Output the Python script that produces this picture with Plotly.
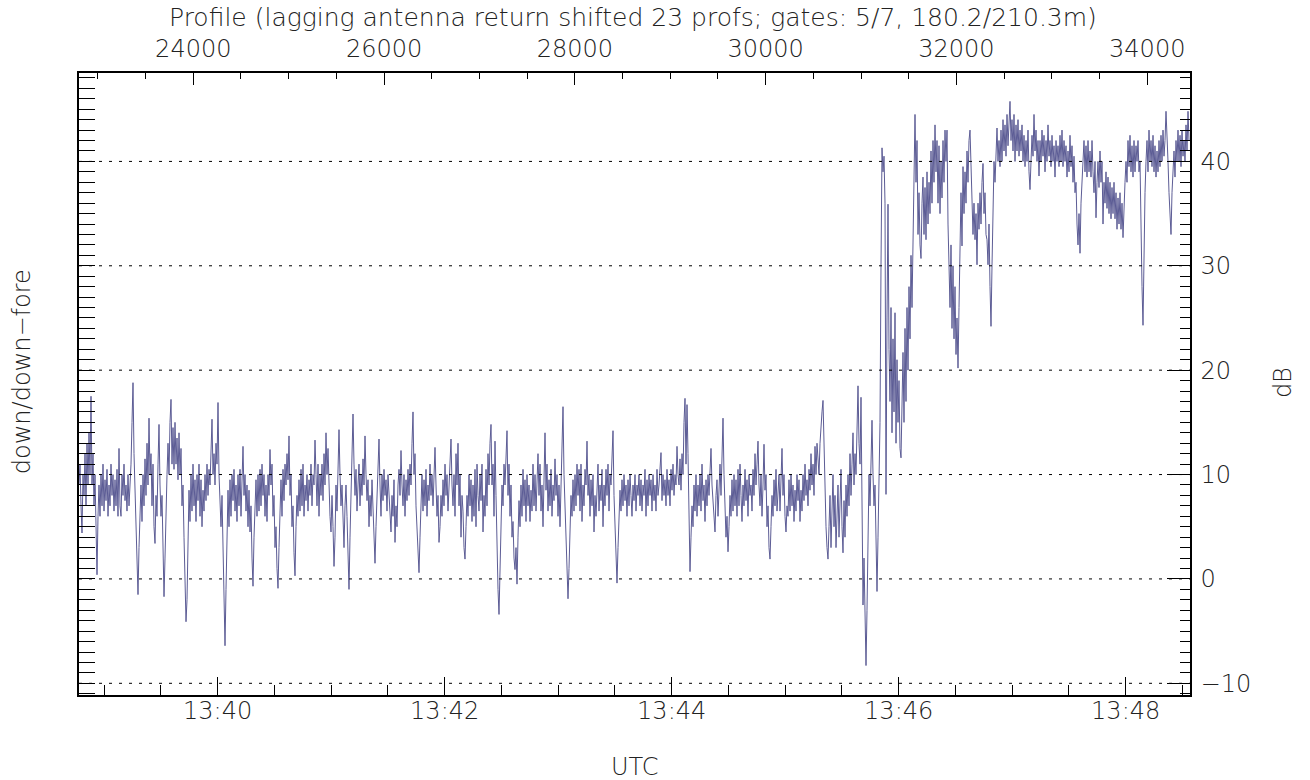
import plotly.graph_objects as go

# Down/down-fore return ratio (dB), one value every ~0.53 s
RATIO_DB = [
    9, 11, 7, 4.4, 10, 8, 12, 7, 13, 9, 14, 10, 17.5, 9, 12, 7, 10, 4, 0.4, 6,
    9, 6, 10, 7, 11, 6.5, 9.5, 7.5, 10.5, 6, 9, 7, 11, 8, 10, 6.5, 9.5, 7, 10.5, 6,
    12.5, 7, 6, 10, 8, 11, 7.5, 9, 6.5, 10, 7, 9, 11, 15, 18.8, 12, 9, 5, 1.5, -1.5,
    3, 6, 9, 5.5, 10, 7, 11.5, 8, 13, 9, 15.4, 10, 12, 7, 11, 5, 3.4, 8, 6, 11,
    14.8, 9, 6, 8, 3, -1.7, 2, 7, 10, 13, 10, 15, 17.2, 11, 14.5, 10.5, 15, 11, 13.5, 9.5,
    14, 10, 12.5, 7, 9, 4, 1, -4.1, -2, 5, 8.5, 5.5, 10, 6.5, 11, 7, 9.5, 5.5, 10, 7.5,
    11, 6, 9.5, 5, 8.5, 6.5, 10, 7.5, 11, 8, 10.5, 9, 13, 15.3, 10, 12, 9, 13, 11, 16.9,
    10, 7, 5, 8, 2, -2, -6.4, -1, 3, 8.5, 5, 9.5, 6, 10, 7.5, 10.5, 6.5, 9, 5.5, 10,
    7, 10.5, 6, 9.5, 12.7, 8, 10, 6.5, 9, 5, 8.5, 4.5, 7, 2, -0.7, 4, 7.5, 9.5, 6, 10,
    6.5, 10.5, 7, 11, 8, 10, 6, 9, 5.5, 10, 8, 12.4, 9, 11, 6, 8, 3, 5, 1, -0.9,
    3, 6, 9.5, 6, 10.5, 7.5, 11, 9, 12, 9.5, 13.7, 8, 10, 5, 7, 2.5, 0.3, 5, 8, 6,
    9.5, 6.5, 10.5, 7, 11, 6, 9, 7.5, 10, 6.5, 9.5, 8, 11, 7, 10, 9, 13.3, 10, 7, 11,
    6, 10, 8, 11, 7.5, 12, 9, 14, 10, 12.5, 8, 6, 4.5, 8, 5, 1.2, 4, 9, 6.5, 11,
    14.3, 10, 7, 9, 5.5, 3, 7, 9, 6, 2, -1, 4, 8, 12, 15.8, 11, 8, 10.5, 6.5, 9,
    11, 7, 10, 8, 11.5, 9, 13.7, 10, 7.5, 9.5, 5, 8, 6, 9.5, 7, 4, 1.5, 5, 8, 11,
    13.4, 9, 6, 10, 7.5, 10.5, 8, 9.5, 6.5, 10, 8, 6, 4.5, 8, 6, 9.5, 3.5, 7, 5, 9,
    10.5, 8, 12.3, 9, 7, 10, 6, 9.5, 7.5, 10.5, 8, 11, 9, 13, 16, 10, 12, 7, 5, 2,
    0.6, 4, 7, 10, 6.5, 9.5, 7, 10.5, 6, 9, 7.5, 11, 8, 10, 7, 11, 12.6, 9, 6, 8,
    3.5, 5, 8, 6, 9.5, 7, 11, 8, 10, 6.5, 9, 11, 13.4, 9, 7, 10, 6, 12, 9, 13,
    7, 10, 4, 8, 6.5, 3, 1.9, 5, 8, 6, 10, 7, 9.5, 5.5, 9, 6, 10.5, 5, 11, 8,
    6.5, 10, 7.5, 11, 4.5, 8, 6, 10.5, 7, 12, 9, 13, 14.8, 9, 11, 6, 13.2, 8, 2, -1,
    -3.4, 1, 5, 9, 7, 11, 9, 12.5, 14.2, 8, 11, 6, 9, 4, 5.5, 2, 0.9, 3, -0.5, 4,
    7.5, 5, 9, 6, 10.5, 7, 9.5, 5.5, 10, 7, 9, 5.5, 8.5, 6.5, 11, 7, 10, 6.5, 9.5, 12,
    8, 11, 6.5, 9, 5, 10, 14, 8.5, 11, 6.5, 9.5, 7, 10.5, 6, 9, 7.5, 11.5, 8, 10, 6,
    9, 5, 10, 13, 16.5, 10, 7, 4, 2, -1.9, 1, 5, 8, 6, 9.5, 6.5, 10, 7, 11, 8,
    10.5, 6.5, 11, 5.5, 9, 7, 10.5, 9, 13.2, 8, 10, 6, 9.5, 7, 10, 4.5, 8, 6, 9.5, 11,
    6.5, 9, 7.5, 10.5, 5, 9, 7, 10.5, 8, 11, 6.5, 10, 9, 12, 14.2, 8, 5, 2, -0.4, 3,
    6, 8.5, 6.5, 9.5, 7, 10, 7.5, 9, 6, 9.5, 7, 10, 8, 6, 9, 7.5, 10, 6.5, 9, 8,
    10, 7, 9.5, 6.5, 9, 8, 10.5, 6, 9.5, 7, 10, 8, 9.5, 6.5, 10, 7.5, 9, 6.5, 10.5, 8,
    9, 11, 12.1, 7.5, 10, 8, 9.5, 7, 10.5, 8, 9.5, 7, 10.5, 8.5, 11, 8, 10, 9, 12.7, 10,
    9, 11.5, 8.5, 12, 10, 15, 17.3, 11, 16.7, 12, 6, 0.7, 4, 7, 5, 9, 6.5, 10, 6, 9,
    7, 10, 6.5, 11, 7.5, 9, 5.5, 9.5, 7, 10, 8, 11, 12.5, 9, 7, 5, 4.5, 8, 9.5, 6,
    9, 11, 8, 13, 15.4, 10, 7, 4, 6, 2.6, 5, 8, 6, 9.5, 6.5, 10, 7, 9.5, 6, 10.5,
    7, 11, 8, 5.5, 9, 7, 10.5, 7.5, 9.5, 6, 10, 8, 9, 6.5, 10.5, 8, 12, 9, 11, 13.2,
    9, 7, 10, 6, 9, 12.9, 8.5, 10, 5, 7, 3, 1.9, 5, 8, 6, 9.5, 7, 10.5, 6.5, 9,
    10, 6.5, 9, 12.5, 8, 10, 6, 4.5, 7, 6, 9.5, 6.5, 10, 7, 9, 5.5, 8.5, 6.5, 10, 7.5,
    9.5, 5.5, 8.5, 6.5, 10, 7.5, 11, 8, 9.5, 7, 10.5, 8.5, 12, 9, 11, 8, 12.7, 10, 13, 11,
    10, 13, 15, 16, 17.1, 12, 8, 5, 3, 1.9, 5, 8, 3, 7, 10, 5, 8, 3, 6.5, 9,
    4, 8, 10.5, 5, 2.5, 7.5, 4, 9, 6, 10, 7, 12, 8, 11, 14, 9, 12, 10, 15, 18.5,
    13, 11, 17.4, 8, -2.5, 2, -5, -8.3, -3, 6, 10, 7, 11, 15.2, 10, 7, 9, 3, -1.2, 4,
    8, 15, 30, 41.3, 39, 40.5, 36, 8.1, 25, 35.9, 22, 17, 26, 14, 23, 16, 25.5, 13, 21, 15,
    19, 12.5, 11.6, 18, 21.7, 15, 24, 17, 26, 20, 28, 23, 31, 26, 33, 40, 44.5, 38, 42, 33,
    37, 32, 30.7, 36, 38.5, 33, 37.5, 32.5, 39, 34, 38, 35, 41, 36, 42, 38, 43.5, 39, 42, 36,
    41.5, 35, 40, 36.5, 42, 38, 43, 40, 43, 34, 31, 26, 32, 24, 30, 23, 28, 21.5, 25, 20.2,
    26, 33, 37, 31.9, 39.5, 35, 39, 36, 41, 38, 42, 43, 39, 37, 33, 36, 32.5, 35, 30.1, 36,
    33.5, 37, 34, 38, 39.8, 35, 37, 33, 32.5, 30.1, 34, 28, 24.2, 30, 36, 40, 38, 42, 43.2, 40,
    42, 39.5, 43, 40, 44, 41, 43.5, 40.5, 44.5, 41.5, 43.5, 45.75, 42, 44, 41, 44.5, 40, 43.5, 41, 44,
    40.5, 43, 41, 43.5, 40, 42.5, 39.5, 42, 40, 43, 39, 37.3, 40, 42.5, 40.5, 44.5, 41, 43, 40, 42,
    38.6, 42, 40, 43, 40.5, 42.5, 39, 42, 40, 43.5, 40.5, 42, 39.5, 42.5, 40, 41.5, 38.5, 42, 40, 41.5,
    39.5, 42.5, 40, 43, 39.5, 42, 40, 41.5, 38.5, 41, 39, 42.5, 39.5, 41.5, 38, 40.5, 37, 38, 34, 32,
    35, 31.2, 36, 38, 40, 42, 39, 41.5, 38.5, 42, 39, 41, 38.5, 42, 39, 37, 40, 34.6, 38, 40,
    37.5, 41, 38, 40, 34, 38, 36, 39, 35.5, 38.5, 35, 38, 34.5, 37.5, 35, 38, 34.5, 37, 33.5, 36.5,
    34, 37, 33.5, 36, 32.7, 36, 38, 40, 38, 42, 39.5, 42.5, 39, 41.5, 38.5, 42, 39, 41.5, 40, 42,
    39, 40, 33, 28, 24.3, 32, 37, 40, 42, 39, 43, 40, 42, 39.5, 42.5, 39, 41.5, 38.5, 41, 39,
    42, 39.5, 42.5, 40, 43, 40.5, 42, 44.8, 41, 40, 37, 35, 33, 37, 39, 41, 38.5, 42, 40, 43,
    40, 42.5, 39.5, 43, 40.5, 42, 40, 43.5, 41, 44.8, 42,
]

# Time base (seconds of day, UTC) and profile counter of the record
T_START_S = 13 * 3600 + 38 * 60 + 46.7
SAMPLE_DT_S = 0.52863         # seconds between plotted samples
SPAN_S = 587.3                # seconds shown on the time axis
PROFILE_START = 22802         # profile number at T_START_S
PROFILE_RATE = 19.83          # profiles per second

# Axis settings
DB_RANGE = [-11.12, 48.47]
GRID_LEVELS_DB = [-10, 0, 10, 20, 30, 40]
TIME_LABELS = ["13:40", "13:42", "13:44", "13:46", "13:48"]

LINE_COLOR = "#5c5c95"
INK = "#222222"
FONT = "DejaVu Sans"
FS = 24


def hhmm_to_s(label):
    h, m = label.split(":")
    return int(h) * 3600 + int(m) * 60


n = len(RATIO_DB)
times = [T_START_S + i * SAMPLE_DT_S for i in range(n)]
profiles = [PROFILE_START + i * SAMPLE_DT_S * PROFILE_RATE for i in range(n)]
t_end = T_START_S + SPAN_S
profile_end = PROFILE_START + SPAN_S * PROFILE_RATE

fig = go.Figure()
fig.add_trace(go.Scatter(
    x=times, y=RATIO_DB, xaxis="x", yaxis="y", mode="lines",
    line=dict(color=LINE_COLOR, width=1), showlegend=False,
    hoverinfo="skip",
))
# same record against profile number and the right-hand dB axis
fig.add_trace(go.Scatter(
    x=profiles, y=RATIO_DB, xaxis="x2", yaxis="y2", mode="lines",
    line=dict(color=LINE_COLOR, width=1), opacity=0, showlegend=False,
    hoverinfo="skip",
))

axis_common = dict(showline=True, linecolor="black", linewidth=1.5,
                   ticks="inside", tickcolor="black", tickwidth=1,
                   showgrid=False, zeroline=False)

fig.update_layout(
    width=1310, height=780,
    margin=dict(l=79, r=120, t=73, b=85),
    paper_bgcolor="white", plot_bgcolor="white",
    font=dict(family=FONT, size=FS, color=INK, weight=200),
    xaxis=dict(
        range=[T_START_S, t_end], side="bottom", anchor="y",
        tickmode="array", tickvals=[hhmm_to_s(s) for s in TIME_LABELS],
        ticktext=TIME_LABELS, ticklen=18, ticklabelstandoff=-7,
        minor=dict(ticks="inside", tickmode="linear", tick0=0, dtick=30,
                   ticklen=10, tickcolor="black", tickwidth=1,
                   showgrid=False),
        **axis_common,
    ),
    xaxis2=dict(
        range=[PROFILE_START, profile_end], side="top", overlaying="x",
        anchor="y", tick0=0, dtick=2000, tickformat="d", ticklen=12,
        ticklabelstandoff=5,
        minor=dict(ticks="inside", dtick=500, ticklen=6, tickcolor="black",
                   tickwidth=1, showgrid=False),
        **axis_common,
    ),
    yaxis=dict(
        range=DB_RANGE, side="left", anchor="x", tick0=0, dtick=1,
        ticklen=16, showticklabels=False, **axis_common,
    ),
    yaxis2=dict(
        range=DB_RANGE, side="right", overlaying="y", anchor="x",
        tick0=0, dtick=10, ticklen=23, ticklabelstandoff=4,
        minor=dict(ticks="inside", dtick=1, ticklen=10, tickcolor="black",
                   tickwidth=1, showgrid=False),
        **axis_common,
    ),
)

# dotted reference levels drawn over the record
for lvl in GRID_LEVELS_DB:
    fig.add_shape(type="line", xref="paper", yref="y", x0=0, x1=1,
                  y0=lvl, y1=lvl, layer="above",
                  line=dict(color="black", width=1, dash="3px,7px"))

fig.add_annotation(text="Profile (lagging antenna return shifted 23 profs; gates: 5/7, 180.2/210.3m)",
                   xref="paper", yref="paper", x=0.4987, y=1.0885,
                   xanchor="center", yanchor="middle", showarrow=False,
                   font=dict(size=25))
fig.add_annotation(text="UTC", xref="paper", yref="paper", x=0.5005, y=-0.1158,
                   xanchor="center", yanchor="middle", showarrow=False)
fig.add_annotation(text="dB", xref="paper", yref="paper", x=1.0837, y=0.503,
                   textangle=-90, xanchor="center", yanchor="middle",
                   showarrow=False)
fig.add_annotation(text="down/down\u2212fore", xref="paper", yref="paper",
                   x=-0.0513, y=0.519, textangle=-90, xanchor="center",
                   yanchor="middle", showarrow=False)

fig.write_html("out.html")
